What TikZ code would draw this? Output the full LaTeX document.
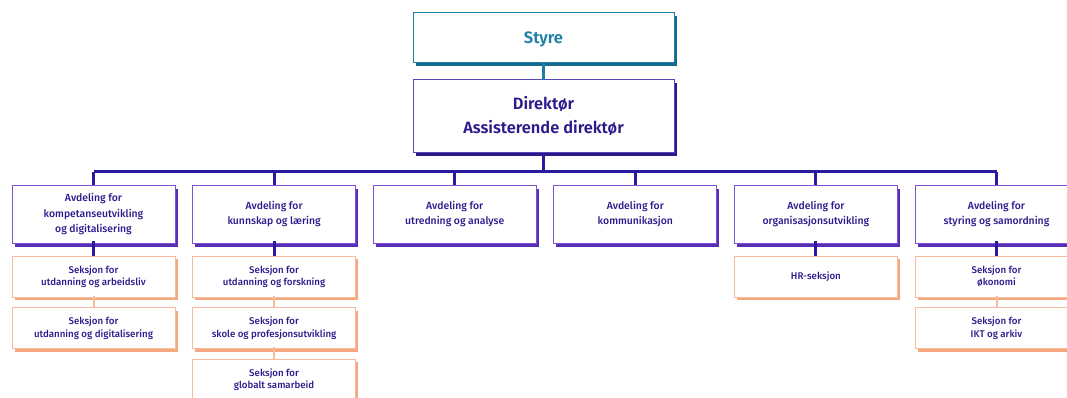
\documentclass[tikz,border=0pt]{standalone}
\usepackage{fontspec}
\setmainfont{Fira Sans}[UprightFont=* Medium, BoldFont=* SemiBold]
\usetikzlibrary{shadows}
\definecolor{teal1}{HTML}{1E7FA6}
\definecolor{teal2}{HTML}{17698C}
\definecolor{ink}{HTML}{2B1B8C}
\definecolor{purp}{HTML}{7E52D2}
\definecolor{purpsh}{HTML}{5A2DB5}
\definecolor{dirline}{HTML}{5646B8}
\definecolor{dirsh}{HTML}{2A1A8A}
\definecolor{busc}{HTML}{2A1A9E}
\definecolor{peach}{HTML}{F8BC9C}
\definecolor{peachsh}{HTML}{F5A77F}
\tikzset{
  x=1pt, y=-1pt,
  basebox/.style={rectangle, fill=white, line width=1pt, inner sep=0pt, outer sep=0pt, align=center, text=ink},
  topbox/.style={basebox, draw=teal1, text=teal1, minimum width=261pt, minimum height=50pt,
     general shadow={fill=teal2, shadow xshift=2.5pt, shadow yshift=-3pt},
     font=\fontsize{16.5}{22}\selectfont\bfseries},
  dirbox/.style={basebox, draw=dirline, minimum width=261pt, minimum height=73pt,
     general shadow={fill=dirsh, shadow xshift=2.5pt, shadow yshift=-3.5pt},
     font=\fontsize{16.4}{24}\selectfont\bfseries},
  deptbox/.style={basebox, draw=purp, minimum width=163pt, minimum height=58pt,
     general shadow={fill=purpsh, shadow xshift=2.5pt, shadow yshift=-3.5pt},
     font=\fontsize{10.4}{15.3}\selectfont},
  secbox/.style={basebox, draw=peach, minimum width=163pt, minimum height=41pt,
     general shadow={fill=peachsh, shadow xshift=2.5pt, shadow yshift=-3pt},
     font=\fontsize{9.7}{12.5}\selectfont},
  bus/.style={draw=busc, line width=3pt},
  tealline/.style={draw=teal1, line width=3pt},
  deptline/.style={draw=busc, line width=3pt},
  secline/.style={draw=peach, line width=2pt},
}
\begin{document}
\begin{tikzpicture}
\useasboundingbox (0,0) rectangle (1067,398);
\clip (0,0) rectangle (1067,398);
\fill[white] (0,0) rectangle (1067,398);

\coordinate (busL) at (93.5,172);
\coordinate (busR) at (996.5,172);
\draw[bus] (busL) -- (busR);

\node[topbox, text depth=-3pt] (styre) at (543.5,38) {Styre};
\node[dirbox] (dir) at (543.5,116.5) {\rule{0pt}{10pt}Direktør\\Assisterende direktør};
\draw[tealline] (styre.south) -- (dir.north);
\draw[bus] (dir.south) -- (dir.south |- busL);

\foreach \i/\x/\t in {1/93.5/{Avdeling for\\kompetanseutvikling\\og digitalisering},
                      2/274.1/{Avdeling for\\kunnskap og læring},
                      3/454.7/{Avdeling for\\utredning og analyse},
                      4/635.3/{Avdeling for\\kommunikasjon},
                      5/815.9/{Avdeling for\\organisasjonsutvikling},
                      6/996.5/{Avdeling for\\styring og samordning}}{
  \node[deptbox] (d\i) at (\x,214) {\t};
  \draw[bus] (d\i.north) -- (d\i.north |- busL);
}

% sections
\node[secbox] (s11) at (93.5,276.5) {Seksjon for\\utdanning og arbeidsliv};
\node[secbox] (s12) at (93.5,328) {Seksjon for\\utdanning og digitalisering};
\node[secbox] (s21) at (274.1,276.5) {Seksjon for\\utdanning og forskning};
\node[secbox] (s22) at (274.1,328) {Seksjon for\\skole og profesjonsutvikling};
\node[secbox] (s23) at (274.1,379.5) {Seksjon for\\globalt samarbeid};
\node[secbox] (s51) at (815.9,276.5) {HR-seksjon};
\node[secbox] (s61) at (996.5,276.5) {Seksjon for\\økonomi};
\node[secbox] (s62) at (996.5,328) {Seksjon for\\IKT og arkiv};

\draw[deptline] ([yshift=1.75pt]d1.south) -- (s11.north);
\draw[deptline] ([yshift=1.75pt]d2.south) -- (s21.north);
\draw[deptline] ([yshift=1.75pt]d5.south) -- (s51.north);
\draw[deptline] ([yshift=1.75pt]d6.south) -- (s61.north);
\draw[secline] ([yshift=1.5pt]s11.south) -- (s12.north);
\draw[secline] ([yshift=1.5pt]s21.south) -- (s22.north);
\draw[secline] ([yshift=1.5pt]s22.south) -- (s23.north);
\draw[secline] ([yshift=1.5pt]s61.south) -- (s62.north);
\end{tikzpicture}
\end{document}
